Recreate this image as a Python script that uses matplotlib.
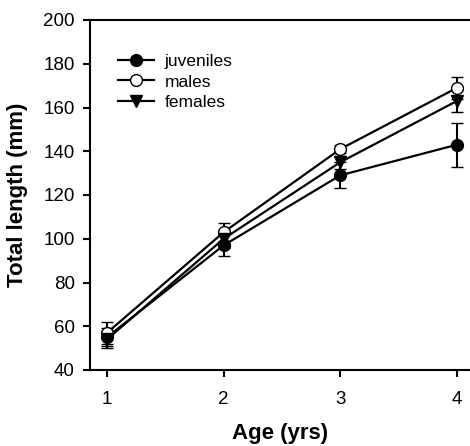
import matplotlib
matplotlib.use("Agg")
import matplotlib.pyplot as plt
from matplotlib.lines import Line2D

plt.rcParams['font.family'] = ['Liberation Sans', 'DejaVu Sans']

ages = [1, 2, 3, 4]
juveniles = [55, 97, 129, 143]
juveniles_err = [4, 5, 6, 10]
males = [57, 103, 141, 169]
males_err = [5, 4, 2, 5]
females = [54, 100, 135, 163]
females_err = [4, 4, 3, 5]

fig = plt.figure(figsize=(4.70, 4.46), dpi=100)
ax = fig.add_axes([90 / 470, 1 - 370 / 446, 380 / 470, 350 / 446])

series = [
    ("juveniles", juveniles, juveniles_err, "o", "black"),
    ("males", males, males_err, "o", "white"),
    ("females", females, females_err, "v", "black"),
]
handles = []
for name, vals, err, mk, face in series:
    ax.errorbar(ages, vals, yerr=err, marker=mk, markersize=8.5, markerfacecolor=face,
                markeredgecolor="black", markeredgewidth=1, color="black", lw=1.6,
                ecolor="black", elinewidth=1.5, capsize=4, capthick=1.5)
    handles.append(Line2D([], [], marker=mk, markersize=8.5, markerfacecolor=face,
                          markeredgecolor="black", color="black", lw=1.6, label=name))

ax.set_xlim(1 - 17 / 116.67, 4 + 13 / 116.67)
ax.set_ylim(40, 200)
ax.set_xticks(ages)
ax.set_yticks(range(40, 201, 20))
ax.spines['right'].set_visible(False)
for s in ['left', 'bottom', 'top']:
    ax.spines[s].set_linewidth(1.5)
ax.tick_params(direction='out', length=5, width=1.5, labelsize=13.5)
ax.tick_params(axis='x', pad=10)
ax.tick_params(axis='y', pad=6)

ax.set_xlabel("Age (yrs)", fontsize=16, fontweight='bold')
ax.set_ylabel("Total length (mm)", fontsize=16, fontweight='bold')
ax.xaxis.set_label_coords(0.5, -(433 - 370) / 350, transform=ax.transAxes)
ax.yaxis.set_label_coords(-(90 - 18) / 380, 0.5, transform=ax.transAxes)
ax.xaxis.label.set_va('center')
ax.yaxis.label.set_va('center')

ax.legend(handles=handles, loc='upper left', bbox_to_anchor=((118 - 90) / 380, (370 - 54) / 350),
          frameon=False, fontsize=12.5, handlelength=2.1, handletextpad=0.6,
          labelspacing=0.3, borderaxespad=0, borderpad=0)

fig.savefig("out.png", dpi=100)
